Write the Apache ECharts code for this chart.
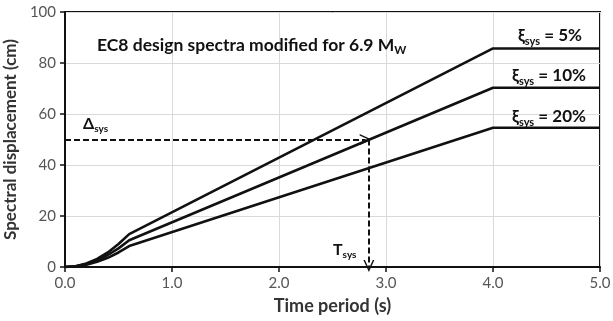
<!DOCTYPE html>
<html>
<head>
<meta charset="utf-8">
<script src="https://cdn.jsdelivr.net/npm/echarts@6/dist/echarts.min.js"></script>
<style>
  html, body { margin: 0; padding: 0; background: #fff; }
  #chart { width: 613px; height: 321px; }
</style>
</head>
<body>
<div id="chart"></div>
<script>
// Period axis (s) and spectral displacement (cm) for three damping levels
const periods = [0, 0.1, 0.2, 0.3, 0.4, 0.5, 0.6, 4.0, 5.0];
const sd5  = [0, 0.3, 1.4, 3.2, 5.7, 9.0, 12.9, 85.7, 85.7];
const sd10 = [0, 0.25, 1.2, 2.6, 4.7, 7.3, 10.5, 70.3, 70.3];
const sd20 = [0, 0.2, 0.9, 2.05, 3.6, 5.7, 8.2, 54.6, 54.6];

// Design point
const deltaSys = 50;
const tSys = 2.84;

const xTicks = [0, 1, 2, 3, 4, 5];
const yTicks = [0, 20, 40, 60, 80, 100];

const FONT = 'Lato';
const chart = echarts.init(document.getElementById('chart'));

// open chevron arrow head, drawn pointing up (markLine rotates it along the line)
const chevron = 'path://M0,10 L5,0 L10,10 L8.6,10 L5,2.8 L1.4,10 Z';

function curve(name, ys) {
  return {
    name, type: 'line', symbol: 'none', smooth: false,
    data: periods.map((t, i) => [t, ys[i]]),
    lineStyle: { color: '#111', width: 2.6 },
    z: 3
  };
}

const guide = {
  name: 'guide', type: 'line', data: [], symbol: 'none',
  markLine: {
    silent: true,
    symbol: ['none', chevron],
    symbolSize: [11, 12],
    label: { show: false },
    lineStyle: { color: '#111', type: [6, 3], width: 2 },
    data: [
      [{ coord: [0, deltaSys] }, { coord: [tSys - 0.03, deltaSys] }],
      [{ coord: [tSys, deltaSys] }, { coord: [tSys, 0.4] }]
    ]
  },
  z: 4
};

function label(x, y, text, size, subSize, align) {
  return {
    type: 'text', x, y,
    style: {
      text,
      rich: {
        s: { fontSize: subSize, fontFamily: FONT, fontWeight: 'bold', fill: '#111',
             padding: [Math.round(subSize * 0.9), 0, 0, 0] }
      },
      fontFamily: FONT, fontSize: size, fontWeight: 'bold', fill: '#111',
      align: align || 'left', verticalAlign: 'middle'
    },
    z: 10
  };
}

chart.setOption({
  animation: false,
  grid: { left: 65, right: 13, top: 12, bottom: 54, show: true, borderColor: '#111', borderWidth: 2,
          containLabel: false, outerBoundsMode: 'none' },
  xAxis: {
    type: 'value', min: 0, max: 5, interval: 1,
    name: 'Time period (s)', nameLocation: 'middle', nameGap: 30,
    nameTextStyle: { fontFamily: FONT, fontSize: 18, fontWeight: 'bold', color: '#333' },
    axisLine: { show: true, lineStyle: { color: '#111', width: 2 } },
    axisTick: { show: true, length: 5, lineStyle: { color: '#111', width: 1.5 } },
    axisLabel: { fontFamily: FONT, fontSize: 15, color: '#555', margin: 9,
      formatter: v => xTicks.includes(v) ? v.toFixed(1) : '' },
    splitLine: { show: true, lineStyle: { color: '#d9d9d9', width: 1 } }
  },
  yAxis: {
    type: 'value', min: 0, max: 100, interval: 20,
    name: 'Spectral displacement (cm)', nameLocation: 'middle', nameGap: 38, nameRotate: 90,
    nameTextStyle: { fontFamily: FONT, fontSize: 17, fontWeight: 'bold', color: '#333' },
    axisLine: { show: true, lineStyle: { color: '#111', width: 2 } },
    axisTick: { show: true, length: 5, lineStyle: { color: '#111', width: 1.5 } },
    axisLabel: { fontFamily: FONT, fontSize: 15, color: '#555', margin: 9,
      formatter: v => yTicks.includes(v) ? String(v) : '' },
    splitLine: { show: true, lineStyle: { color: '#d9d9d9', width: 1 } }
  },
  series: [curve('ξ 5%', sd5), curve('ξ 10%', sd10), curve('ξ 20%', sd20), guide],
  graphic: [
    label(97, 45, 'EC8 design spectra modified for 6.9 M{s|W}', 17.5, 11.5),
    label(550, 36, 'ξ{s|sys} = 5%', 17, 11, 'center'),
    label(549, 76, 'ξ{s|sys} = 10%', 17, 11, 'center'),
    label(549, 117, 'ξ{s|sys} = 20%', 17, 11, 'center'),
    label(83, 124, 'Δ{s|sys}', 16, 10),
    label(333, 250, 'T{s|sys}', 16, 10)
  ]
});
</script>
</body>
</html>
